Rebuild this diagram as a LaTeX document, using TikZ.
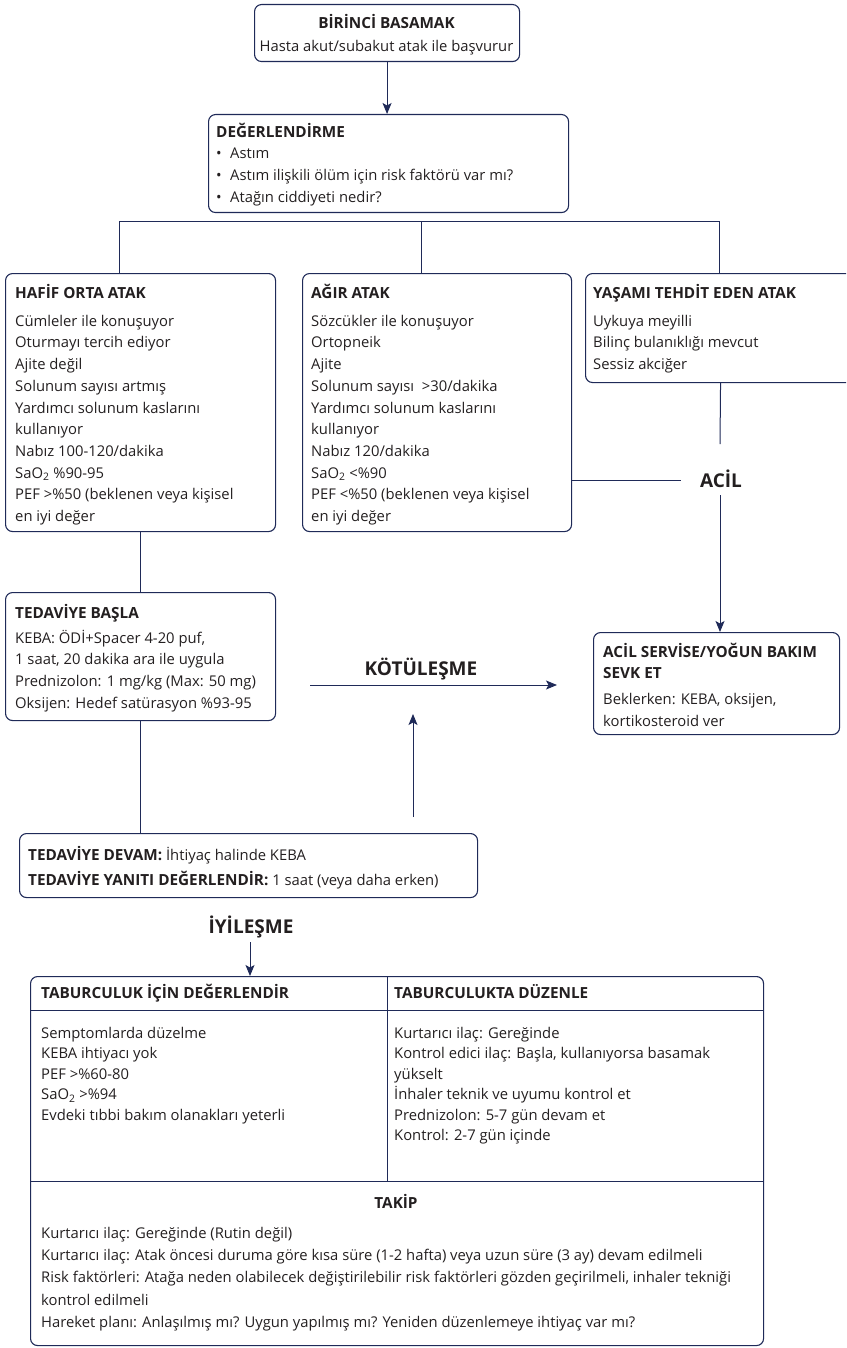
\documentclass[tikz,border=0pt]{standalone}
\usepackage{fontspec}
\setmainfont{Open Sans}
\usetikzlibrary{arrows.meta}
\definecolor{navy}{RGB}{31,42,88}
\definecolor{ink}{RGB}{35,31,32}
\newcommand{\bodyfont}{\fontsize{14.8}{21.7}\selectfont}
\newcommand{\st}{\rule{0pt}{16pt}}
\newcommand{\hd}[1]{{\fontsize{15.3}{21.7}\selectfont\bfseries #1}}
\newcommand{\saot}{SaO\textsubscript{2}}
\newcommand{\bul}{\makebox[14pt][l]{•}}
\begin{document}
\begin{tikzpicture}[x=1pt,y=-1pt,
  box/.style={draw=navy, line width=1.1pt, rounded corners=7pt, inner sep=0pt, anchor=north west},
  txt/.style={anchor=north west, inner sep=0pt, align=left, font=\bodyfont, text=ink},
  conn/.style={draw=navy, line width=1pt},
  arr/.style={conn, -{Stealth[length=11pt,width=9pt,inset=2.5pt]}},
  big/.style={font=\fontsize{19}{22}\selectfont\bfseries, text=ink, inner sep=0pt, anchor=base}]
\useasboundingbox (0,0) rectangle (846,1348);
\clip (0,0) rectangle (846,1348);

% boxes
\node[box, minimum width=265pt, minimum height=57pt] (b1) at (254,4) {};
\node[box, minimum width=360pt, minimum height=98pt] (b2) at (208,114) {};
\node[box, minimum width=270pt, minimum height=258pt] (hafif) at (5,273) {};
\node[box, minimum width=269pt, minimum height=258pt] (agir) at (302,273) {};
\node[box, minimum width=270pt, minimum height=109pt] (yasam) at (585,273) {};
\node[box, minimum width=270pt, minimum height=128pt] (tb) at (5,592) {};
\node[box, minimum width=246pt, minimum height=102pt] (acs) at (593,632) {};
\node[box, minimum width=458pt, minimum height=64pt] (td) at (19,833) {};
\node[box, minimum width=733pt, minimum height=369pt] (tbl) at (30,976) {};

% texts
\node[txt, anchor=north, align=center] (b1t) at (386.5,12)
  {\st\hd{BİRİNCİ BASAMAK}\\[1.3pt] Hasta akut/subakut atak ile başvurur};
\node[txt] (b2t) at (216,121)
  {\st\hd{DEĞERLENDİRME}\\ \bul Astım\\ \bul Astım ilişkili ölüm için risk faktörü var mı?\\ \bul Atağın ciddiyeti nedir?};
\node[txt] (hafift) at (15,282)
  {\st\hd{HAFİF ORTA ATAK}\\[6.3pt]
   Cümleler ile konuşuyor\\ Oturmayı tercih ediyor\\ Ajite değil\\ Solunum sayısı artmış\\
   Yardımcı solunum kaslarını\\ kullanıyor\\ Nabız 100-120/dakika\\ \saot{} \%90-95\\
   PEF >\%50 (beklenen veya kişisel\\ en iyi değer};
\node[txt] (agirt) at (311,282)
  {\st\hd{AĞIR ATAK}\\[6.3pt]
   Sözcükler ile konuşuyor\\ Ortopneik\\ Ajite\\ Solunum sayısı \ >30/dakika\\
   Yardımcı solunum kaslarını\\ kullanıyor\\ Nabız 120/dakika\\ \saot{} <\%90\\
   PEF <\%50 (beklenen veya kişisel\\ en iyi değer};
\node[txt] (yasamt) at (593,282)
  {\st\hd{YAŞAMI TEHDİT EDEN ATAK}\\[6.3pt]
   Uykuya meyilli\\ Bilinç bulanıklığı mevcut\\ Sessiz akciğer};
\node[txt] (tbt) at (15,602)
  {\st\hd{TEDAVİYE BAŞLA}\\[3.3pt]
   KEBA: ÖDİ+Spacer 4-20 puf,\\ 1 saat, 20 dakika ara ile uygula\\
   Prednizolon: 1 mg/kg (Max: 50 mg)\\ Oksijen: Hedef satürasyon \%93-95};
\node[txt] (acst) at (603,641)
  {\st\hd{ACİL SERVİSE/YOĞUN BAKIM}\\ \hd{SEVK ET}\\[4.3pt]
   Beklerken: KEBA, oksijen,\\ kortikosteroid ver};
\node[txt] (tdt) at (28,844)
  {\st\hd{TEDAVİYE DEVAM:} İhtiyaç halinde KEBA\\[3.3pt]
   \hd{TEDAVİYE YANITI DEĞERLENDİR:} 1 saat (veya daha erken)};

\node[big] (acil) at (721,487) {ACİL};
\node[big] (kot) at (421,675) {KÖTÜLEŞME};
\node[big] (iyi) at (251,933) {İYİLEŞME};

% table contents
\node[txt] (th1) at (41,982) {\st\hd{TABURCULUK İÇİN DEĞERLENDİR}};
\node[txt] (th2) at (394,982) {\st\hd{TABURCULUKTA DÜZENLE}};
\node[txt, font=\fontsize{14.8}{20.5}\selectfont] (tl) at (41,1022)
  {\st Semptomlarda düzelme\\ KEBA ihtiyacı yok\\ PEF >\%60-80\\ \saot{} >\%94\\ Evdeki tıbbi bakım olanakları yeterli};
\node[txt, font=\fontsize{14.8}{20.5}\selectfont] (tr) at (394,1022)
  {\st Kurtarıcı ilaç: Gereğinde\\ Kontrol edici ilaç: Başla, kullanıyorsa basamak\\ yükselt\\
   İnhaler teknik ve uyumu kontrol et\\ Prednizolon: 5-7 gün devam et\\ Kontrol: 2-7 gün içinde};
\node[txt, anchor=base] (takip) at (396,1208) {\hd{TAKİP}};
\node[txt, font=\fontsize{14.8}{22.3}\selectfont] (takipt) at (41,1222)
  {\st Kurtarıcı ilaç: Gereğinde (Rutin değil)\\
   Kurtarıcı ilaç: Atak öncesi duruma göre kısa süre (1-2 hafta) veya uzun süre (3 ay) devam edilmeli\\
   Risk faktörleri: Atağa neden olabilecek değiştirilebilir risk faktörleri gözden geçirilmeli, inhaler tekniği\\
   kontrol edilmeli\\
   Hareket planı: Anlaşılmış mı? Uygun yapılmış mı? Yeniden düzenlemeye ihtiyaç var mı?};

% table rules
\draw[conn] (tbl.west |- 0,1010) -- (tbl.east |- 0,1010);
\draw[conn] (387,976) -- (387,1181);
\draw[conn] (tbl.west |- 0,1181) -- (tbl.east |- 0,1181);

% connectors
\draw[arr] (b1.south) -- (b1.south |- b2.north);
\coordinate (h1) at (119,222);
\coordinate (h2) at (421,222);
\coordinate (h3) at (719,222);
\draw[conn] (h1 |- hafif.north) -- (h1) -- (h3) -- (h3 |- yasam.north);
\draw[conn] (h2) -- (h2 |- agir.north);
\coordinate (acT) at (720,444);
\coordinate (acB) at (720,495);
\coordinate (acL) at (681,480);
\draw[conn] (yasam.south) -- (acT);
\draw[conn] (agir.east |- acL) -- (acL);
\draw[arr] (acB) -- (acB |- acs.north);
\draw[conn] (hafif.south) -- (tb.north);
\draw[conn] (tb.south) -- (tb.south |- td.north);
\coordinate (kL) at (310,685);
\coordinate (kR) at (557,685);
\draw[arr] (kL) -- (kR);
\coordinate (uB) at (413,817);
\coordinate (uT) at (413,714);
\draw[arr] (uB) -- (uT);
\coordinate (iT) at (250,942);
\draw[arr] (iT) -- (iT |- tbl.north);
\end{tikzpicture}
\end{document}
